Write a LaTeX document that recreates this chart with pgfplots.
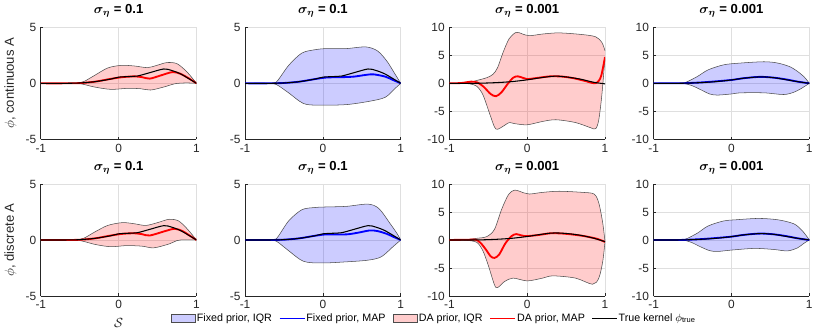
\documentclass[border=0pt]{standalone}
\usepackage{amsmath}
\usepackage{fontspec}
\setmainfont{Liberation Sans}
\usepackage{pgfplots}
\pgfplotsset{compat=1.18}
\usepgfplotslibrary{groupplots,fillbetween}

\definecolor{axgray}{HTML}{262626}
\definecolor{gridgray}{HTML}{DFDFDF}

% common look of the eight panels (1px = 0.75pt)
\pgfplotsset{
  panel/.style={
    scale only axis, width=117.75pt, height=84.75pt,
    xmin=-1, xmax=1, xtick={-1,0,1},
    enlargelimits=false,
    axis lines*=left,
    axis line style={axgray, line width=0.5pt},
    tick align=inside, major tick length=2pt,
    tick style={axgray, line width=0.5pt},
    grid=major, major grid style={gridgray, line width=0.5pt},
    ticklabel style={font=\fontsize{9}{10}\selectfont, text=axgray},
    /pgf/number format/assume math mode=true,
    title style={font=\fontsize{9.9}{11}\selectfont\bfseries, yshift=-2pt},
    label style={font=\fontsize{9.9}{11}\selectfont, text=axgray},
  },
  small/.style={ymin=-5, ymax=5, ytick={-5,0,5}},
  big/.style={ymin=-10, ymax=10, ytick={-10,-5,0,5,10}},
  edge/.style={draw=black!70, line width=0.4pt, smooth, forget plot},
  daband/.style={fill=red, fill opacity=0.2, draw=none, forget plot},
  fxband/.style={fill=blue, fill opacity=0.2, draw=none, forget plot},
  damap/.style={red, line width=1.4pt, smooth, forget plot},
  fxmap/.style={blue, line width=1.4pt, smooth, forget plot},
  truek/.style={black, line width=0.8pt, smooth, forget plot},
}

\begin{document}
\begin{tikzpicture}
\begin{groupplot}[
  group style={group size=4 by 2, horizontal sep=36.75pt, vertical sep=33.75pt},
  panel,
]

% ---- row 1, continuous A ----
\nextgroupplot[small, title={$\boldsymbol{\sigma_\eta}$ = 0.1}, ylabel={$\phi$, continuous A}]
\addplot[edge, name path=u1] coordinates {(-1,0) (-0.7,0) (-0.55,0.02) (-0.45,0.15) (-0.31,0.7) (-0.14,1.37) (0.03,1.6) (0.2,1.55) (0.37,1.4) (0.49,1.6) (0.62,1.85) (0.75,1.75) (0.88,1.0) (1,0)};
\addplot[edge, name path=l1] coordinates {(-1,0) (-0.7,0) (-0.5,-0.03) (-0.31,-0.33) (-0.1,-0.54) (0.11,-0.45) (0.28,-0.48) (0.41,-0.6) (0.58,-0.33) (0.71,-0.06) (0.8,0.02) (0.9,0.03) (1,0)};
\addplot[daband] fill between[of=u1 and l1];
\addplot[damap] coordinates {(-1,0) (-0.7,0) (-0.5,0.02) (-0.3,0.15) (-0.1,0.4) (0.05,0.55) (0.2,0.62) (0.3,0.55) (0.4,0.42) (0.54,0.7) (0.69,1.0) (0.79,0.86) (0.9,0.45) (1,0)};
\addplot[truek] coordinates {(-1,0) (-0.7,0) (-0.5,0.03) (-0.3,0.15) (-0.1,0.38) (0,0.55) (0.12,0.6) (0.24,0.65) (0.4,0.95) (0.58,1.28) (0.68,1.15) (0.79,0.86) (0.9,0.42) (1,0)};

\nextgroupplot[small, title={$\boldsymbol{\sigma_\eta}$ = 0.1}]
\addplot[edge, name path=u2] coordinates {(-1,0) (-0.7,0) (-0.6,0.1) (-0.44,1.6) (-0.27,2.7) (-0.1,3.0) (0.05,3.1) (0.3,3.1) (0.55,3.25) (0.7,2.9) (0.82,2.0) (0.92,0.9) (1,0)};
\addplot[edge, name path=l2] coordinates {(-1,0) (-0.7,0) (-0.6,-0.1) (-0.45,-0.8) (-0.25,-1.8) (-0.05,-1.95) (0.3,-1.9) (0.6,-1.6) (0.8,-1.25) (0.92,-0.5) (1,0)};
\addplot[fxband] fill between[of=u2 and l2];
\addplot[fxmap] coordinates {(-1,0) (-0.7,0) (-0.5,0.03) (-0.3,0.15) (-0.1,0.38) (0.05,0.52) (0.25,0.55) (0.4,0.6) (0.55,0.75) (0.65,0.8) (0.8,0.6) (0.9,0.3) (1,0)};
\addplot[truek] coordinates {(-1,0) (-0.7,0) (-0.5,0.03) (-0.3,0.15) (-0.1,0.38) (0,0.55) (0.12,0.6) (0.24,0.65) (0.4,0.95) (0.58,1.28) (0.68,1.15) (0.79,0.86) (0.9,0.42) (1,0)};

\nextgroupplot[big, title={$\boldsymbol{\sigma_\eta}$ = 0.001}]
\addplot[edge, name path=u3] coordinates {(-1,0) (-0.85,0.02) (-0.74,0.15) (-0.65,0.5) (-0.52,1.0) (-0.44,1.6) (-0.38,2.8) (-0.31,5.5) (-0.23,8.0) (-0.14,9.1) (-0.06,8.8) (0.03,8.5) (0.2,8.8) (0.41,9.0) (0.71,8.7) (0.88,8.3) (0.96,7.3) (1,5.8)};
\addplot[edge, name path=l3] coordinates {(-1,0) (-0.85,-0.02) (-0.74,-0.1) (-0.65,-0.5) (-0.57,-2.0) (-0.48,-5.5) (-0.42,-7.8) (-0.38,-8.2) (-0.29,-7.5) (-0.23,-7.0) (-0.16,-7.2) (0,-7.4) (0.2,-6.8) (0.37,-6.5) (0.62,-7.0) (0.81,-7.9) (0.88,-8.1) (0.92,-6.5) (0.96,-2) (1,4.6)};
\addplot[daband] fill between[of=u3 and l3];
\addplot[damap] coordinates {(-1,0) (-0.85,0.05) (-0.72,0.3) (-0.64,0.15) (-0.56,-0.6) (-0.47,-1.9) (-0.4,-2.3) (-0.33,-1.6) (-0.25,-0.1) (-0.18,1.0) (-0.12,1.25) (-0.05,0.95) (0,0.75) (0.15,1.0) (0.3,1.25) (0.45,1.2) (0.6,0.9) (0.75,0.4) (0.84,0.05) (0.9,0.15) (0.95,1.3) (1,4.7)};
\addplot[truek] coordinates {(-1,0) (-0.7,0) (-0.6,0.02) (-0.4,0.12) (-0.2,0.3) (0,0.62) (0.15,0.95) (0.3,1.22) (0.4,1.27) (0.55,1.05) (0.7,0.7) (0.85,0.2) (1,-0.1)};

\nextgroupplot[big, title={$\boldsymbol{\sigma_\eta}$ = 0.001}]
\addplot[edge, name path=u4] coordinates {(-1,0) (-0.7,0) (-0.6,0.1) (-0.44,1.2) (-0.3,2.4) (-0.1,3.3) (0.1,3.6) (0.42,3.85) (0.6,3.6) (0.76,2.9) (0.88,1.8) (0.95,0.9) (1,0)};
\addplot[edge, name path=l4] coordinates {(-1,0) (-0.65,0) (-0.52,-0.35) (-0.4,-1.1) (-0.28,-1.9) (-0.18,-2.1) (0,-1.9) (0.12,-1.7) (0.42,-1.7) (0.67,-2.0) (0.8,-1.6) (0.9,-0.9) (1,0)};
\addplot[fxband] fill between[of=u4 and l4];
\addplot[fxmap] coordinates {(-1,0) (-0.7,0) (-0.6,0.02) (-0.4,0.15) (-0.2,0.35) (0,0.6) (0.15,0.9) (0.3,1.1) (0.4,1.15) (0.55,1.0) (0.7,0.7) (0.85,0.3) (1,0)};
\addplot[truek] coordinates {(-1,0) (-0.7,0) (-0.6,0.02) (-0.4,0.12) (-0.2,0.3) (0,0.6) (0.15,0.9) (0.3,1.1) (0.4,1.15) (0.55,1.0) (0.7,0.65) (0.85,0.3) (1,0)};

% ---- row 2, discrete A ----
\nextgroupplot[small, title={$\boldsymbol{\sigma_\eta}$ = 0.1}, ylabel={$\phi$, discrete A}, xlabel={$\mathcal{S}$}]
\addplot[edge, name path=u5] coordinates {(-1,0) (-0.7,0) (-0.55,0.02) (-0.45,0.15) (-0.31,0.7) (-0.14,1.3) (0.05,1.55) (0.2,1.45) (0.35,1.3) (0.5,1.55) (0.65,1.85) (0.77,1.7) (0.88,1.0) (1,0)};
\addplot[edge, name path=l5] coordinates {(-1,0) (-0.7,0) (-0.5,-0.05) (-0.3,-0.4) (-0.1,-0.6) (0.1,-0.5) (0.3,-0.55) (0.45,-0.7) (0.65,-0.35) (0.75,-0.05) (0.85,0.02) (1,0)};
\addplot[daband] fill between[of=u5 and l5];
\addplot[damap] coordinates {(-1,0) (-0.7,0) (-0.5,0.02) (-0.3,0.15) (-0.1,0.4) (0.05,0.55) (0.2,0.6) (0.3,0.52) (0.4,0.4) (0.6,0.8) (0.72,1.0) (0.82,0.8) (0.9,0.45) (1,0)};
\addplot[truek] coordinates {(-1,0) (-0.7,0) (-0.5,0.03) (-0.3,0.15) (-0.1,0.38) (0,0.55) (0.12,0.6) (0.24,0.65) (0.4,0.95) (0.58,1.28) (0.68,1.15) (0.79,0.86) (0.9,0.42) (1,0)};

\nextgroupplot[small, title={$\boldsymbol{\sigma_\eta}$ = 0.1}]
\addplot[edge, name path=u6] coordinates {(-1,0) (-0.7,0) (-0.6,0.1) (-0.44,1.7) (-0.27,2.7) (-0.1,2.9) (0.05,2.95) (0.3,3.0) (0.58,3.2) (0.72,2.8) (0.87,1.4) (0.95,0.6) (1,0)};
\addplot[edge, name path=l6] coordinates {(-1,0) (-0.7,0) (-0.6,-0.1) (-0.45,-0.9) (-0.25,-1.9) (-0.01,-2.05) (0.3,-1.95) (0.58,-1.8) (0.75,-1.5) (0.9,-0.6) (1,0)};
\addplot[fxband] fill between[of=u6 and l6];
\addplot[fxmap] coordinates {(-1,0) (-0.7,0) (-0.5,0.03) (-0.3,0.15) (-0.1,0.38) (0.05,0.5) (0.3,0.5) (0.45,0.65) (0.6,0.85) (0.7,0.8) (0.82,0.55) (0.9,0.3) (1,0)};
\addplot[truek] coordinates {(-1,0) (-0.7,0) (-0.5,0.03) (-0.3,0.15) (-0.1,0.38) (0,0.55) (0.12,0.6) (0.24,0.65) (0.4,0.95) (0.58,1.28) (0.68,1.15) (0.79,0.86) (0.9,0.42) (1,0)};

\nextgroupplot[big, title={$\boldsymbol{\sigma_\eta}$ = 0.001}]
\addplot[edge, name path=u7] coordinates {(-1,0) (-0.8,0.05) (-0.65,0.3) (-0.52,0.6) (-0.42,1.9) (-0.33,5.4) (-0.24,8.1) (-0.16,8.9) (-0.04,8.4) (0.03,8.2) (0.2,8.5) (0.41,8.7) (0.71,8.5) (0.86,8.2) (0.92,6.6) (0.97,3.1) (1,-0.3)};
\addplot[edge, name path=l7] coordinates {(-1,0) (-0.8,-0.05) (-0.65,-0.4) (-0.57,-1.9) (-0.5,-4.5) (-0.42,-8.0) (-0.38,-8.5) (-0.29,-7.4) (-0.18,-6.8) (0,-7.3) (0.2,-6.8) (0.33,-6.4) (0.62,-6.8) (0.84,-7.9) (0.92,-6.8) (0.97,-3.9) (1,-0.3)};
\addplot[daband] fill between[of=u7 and l7];
\addplot[damap] coordinates {(-1,0) (-0.75,0.05) (-0.66,0.05) (-0.6,-0.5) (-0.53,-1.7) (-0.47,-2.9) (-0.42,-3.2) (-0.36,-2.6) (-0.28,-0.6) (-0.2,0.7) (-0.14,1.05) (-0.07,0.8) (0,0.7) (0.15,0.9) (0.3,1.2) (0.45,1.15) (0.6,0.95) (0.75,0.65) (0.9,0.2) (1,-0.35)};
\addplot[truek] coordinates {(-1,0) (-0.7,0) (-0.6,0.02) (-0.4,0.12) (-0.2,0.3) (0,0.62) (0.15,0.95) (0.3,1.22) (0.4,1.25) (0.55,1.1) (0.7,0.8) (0.86,0.3) (1,-0.3)};

\nextgroupplot[big, title={$\boldsymbol{\sigma_\eta}$ = 0.001},
  legend style={at={(-3.13,-0.2)}, anchor=west, draw=none, fill=none,
    legend columns=5, font=\fontsize{8.1}{9}\selectfont,
    nodes={inner sep=0.75pt},
    /tikz/every even column/.append style={column sep=4.5pt}}]
\addplot[edge, name path=u8] coordinates {(-1,0) (-0.7,0) (-0.6,0.1) (-0.44,1.2) (-0.3,2.5) (-0.1,3.4) (0.05,3.6) (0.35,3.85) (0.6,3.6) (0.8,2.9) (0.9,1.8) (0.96,0.8) (1,0)};
\addplot[edge, name path=l8] coordinates {(-1,0) (-0.65,0) (-0.52,-0.4) (-0.4,-1.2) (-0.28,-1.9) (-0.18,-2.05) (0,-1.8) (0.3,-1.5) (0.55,-1.7) (0.72,-1.95) (0.85,-1.4) (0.93,-0.6) (1,0)};
\addplot[fxband] fill between[of=u8 and l8];
\addplot[fxmap] coordinates {(-1,0) (-0.7,0) (-0.6,0.02) (-0.4,0.15) (-0.2,0.35) (0,0.6) (0.15,0.9) (0.3,1.1) (0.4,1.15) (0.55,1.0) (0.7,0.7) (0.85,0.3) (1,0)};
\addplot[truek] coordinates {(-1,0) (-0.7,0) (-0.6,0.02) (-0.4,0.12) (-0.2,0.3) (0,0.6) (0.15,0.9) (0.3,1.1) (0.4,1.15) (0.55,1.0) (0.7,0.65) (0.85,0.3) (1,0)};
\addlegendimage{legend image code/.code={\draw[fill=blue!20, draw=black!70, line width=0.4pt] (0pt,-3pt) rectangle (18.75pt,3pt);}}
\addlegendentry{Fixed prior, IQR}
\addlegendimage{legend image code/.code={\draw[blue, line width=1.4pt] (0pt,0pt) -- (18.75pt,0pt);}}
\addlegendentry{Fixed prior, MAP}
\addlegendimage{legend image code/.code={\draw[fill=red!20, draw=black!70, line width=0.4pt] (0pt,-3pt) rectangle (18.75pt,3pt);}}
\addlegendentry{DA prior, IQR}
\addlegendimage{legend image code/.code={\draw[red, line width=1.4pt] (0pt,0pt) -- (18.75pt,0pt);}}
\addlegendentry{DA prior, MAP}
\addlegendimage{legend image code/.code={\draw[black, line width=0.8pt] (0pt,0pt) -- (18.75pt,0pt);}}
\addlegendentry{True kernel $\phi_{\mathrm{true}}$}
\end{groupplot}
\path[use as bounding box] ([xshift=-27pt, yshift=20.25pt]group c1r1.north west)
  rectangle ([xshift=3.75pt, yshift=-28.5pt]group c4r2.south east);
\end{tikzpicture}
\end{document}
